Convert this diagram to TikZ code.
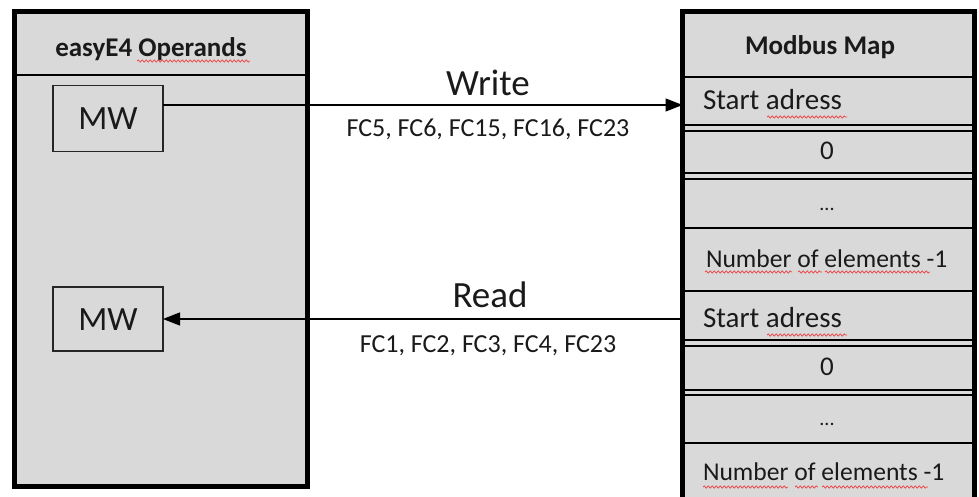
\documentclass[tikz,border=0pt]{standalone}
\usepackage{fontspec}
\setmainfont{Carlito}
\usetikzlibrary{arrows.meta,decorations.pathmorphing}
\definecolor{boxgray}{HTML}{D9D9D9}
\definecolor{txt}{HTML}{1A1A1A}
\definecolor{squig}{HTML}{F04040}
\tikzset{
  bigbox/.style={draw=black, line width=5pt, fill=boxgray, anchor=north west, inner sep=0pt, outer sep=0pt},
  mwbox/.style={draw=black!85, line width=1.6pt, anchor=north west, inner sep=0pt, outer sep=0pt, minimum width=110pt, minimum height=66pt},
  lbl/.style={inner sep=0pt, outer sep=0pt, anchor=base, text=txt},
  lbll/.style={lbl, anchor=base west},
  rowline/.style={draw=black, line width=1.8pt},
  conn/.style={draw=black, line width=1.3pt, -{Triangle[length=17pt,width=13pt]}},
  squiggle/.style={draw=squig, line width=0.7pt, decorate, decoration={snake, segment length=4pt, amplitude=1.1pt}}
}
\begin{document}
\begin{tikzpicture}[x=1pt,y=-1pt]
\clip (0,0) rectangle (979,497);
\fill[white] (0,0) rectangle (979,497);
% left box
\node[bigbox, minimum width=293pt, minimum height=474.5pt] (ops) at (14.5,12) {};
\draw[rowline] (ops.west |- 0,75) -- (ops.east |- 0,75);
% right box
\node[bigbox, minimum width=292pt, minimum height=520pt] (map) at (682.5,11.5) {};
\foreach \yy in {77,125,131,173,179,228,291,340,346,390,395,443}{
  \draw[rowline] (map.west |- 0,\yy) -- (map.east |- 0,\yy);
}
% MW boxes
\node[mwbox] (mw1) at (53,85.5) {};
\node[mwbox, minimum height=64pt] (mw2) at (53,287) {};
\node[lbl, font=\fontsize{34}{34}\selectfont] (mw1t) at (108,130) {MW};
\node[lbl, font=\fontsize{34}{34}\selectfont] (mw2t) at (108,330) {MW};
% headers
\node[lbl, font=\fontsize{27}{27}\bfseries] (opst) at (151,57) {easyE4 Operands};
\node[lbl, font=\fontsize{27}{27}\bfseries] (mapt) at (820,55) {Modbus Map};
% connectors
\coordinate (wend) at (map.west |- 0,105);
\coordinate (rstart) at (map.west |- 0,319);
\draw[conn] (mw1.east |- 0,105) -- (wend);
\draw[conn] (rstart) -- (mw2.east |- 0,319);
\node[lbl, font=\fontsize{37}{37}\selectfont] (wt) at (488,96) {Write};
\node[lbl, font=\fontsize{26}{26}\selectfont] (wfc) at (488,137) {FC5, FC6, FC15, FC16, FC23};
\node[lbl, font=\fontsize{37}{37}\selectfont] (rt) at (490,307) {Read};
\node[lbl, font=\fontsize{26}{26}\selectfont] (rfc) at (488,352) {FC1, FC2, FC3, FC4, FC23};
% map rows
\node[lbll, font=\fontsize{29}{29}\selectfont] (sa1) at (703,110) {Start adress};
\node[lbl, font=\fontsize{27}{27}\selectfont] (z1) at (827,160) {0};
\node[lbl, font=\fontsize{20}{20}\selectfont] (d1) at (827,210) {...};
\node[lbll, font=\fontsize{25.6}{25.6}\selectfont] (n1) at (706,267) {Number of elements -1};
\node[lbll, font=\fontsize{29}{29}\selectfont] (sa2) at (703,327) {Start adress};
\node[lbl, font=\fontsize{27}{27}\selectfont] (z2) at (827,375) {0};
\node[lbl, font=\fontsize{20}{20}\selectfont] (d2) at (827,425) {...};
\node[lbll, font=\fontsize{25.6}{25.6}\selectfont] (n2) at (703,480) {Number of elements -1};
% spell-check squiggles
\draw[squiggle] (137,61) -- (250,61);
\draw[squiggle] (767,117) -- (847,117);
\draw[squiggle] (705,272) -- (792,272);
\draw[squiggle] (798,272) -- (822,272);
\draw[squiggle] (825,272) -- (930,272);
\draw[squiggle] (767,335) -- (847,335);
\draw[squiggle] (703,487) -- (788,487);
\draw[squiggle] (795,487) -- (818,487);
\draw[squiggle] (822,487) -- (928,487);
\end{tikzpicture}
\end{document}
